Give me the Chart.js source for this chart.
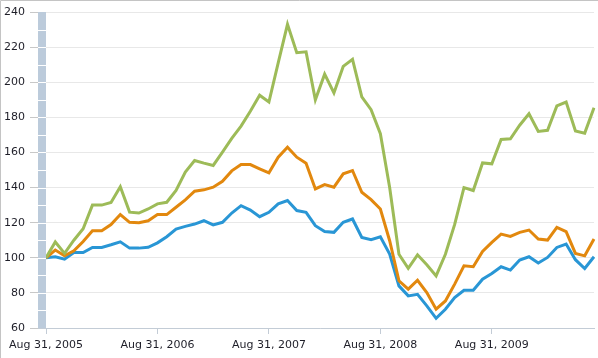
<!DOCTYPE html>
<html>
<head>
<meta charset="utf-8">
<script src="https://cdn.jsdelivr.net/npm/chart.js@4/dist/chart.umd.min.js"></script>
<style>
  html, body { margin: 0; padding: 0; background: #fff; }
  #wrap { width: 598px; height: 358px; position: relative; }
</style>
</head>
<body>
<div id="wrap"><canvas id="chart" width="598" height="358"></canvas></div>
<script>
// month-end categories, Aug 2005 .. Jul 2010
const monthNames = ["Jan", "Feb", "Mar", "Apr", "May", "Jun", "Jul", "Aug", "Sep", "Oct", "Nov", "Dec"];
const months = [];
for (let i = 0; i < 60; i++) {
  const d = new Date(2005, 8 + i, 0);
  months.push(`${monthNames[d.getMonth()]} ${d.getDate()}, ${d.getFullYear()}`);
}
const tickLabels = ["Aug 31, 2005", "Aug 31, 2006", "Aug 31, 2007", "Aug 31, 2008", "Aug 31, 2009"];

const greenSeries = [100, 109, 102.5, 110, 116.5, 130, 130, 131.5, 140.5, 126,
  125.5, 127.8, 130.7, 131.6, 138.3, 148.8, 155.4, 153.9, 152.6, 160.2,
  168, 175, 183.5, 192.6, 188.7, 211, 233, 216.8, 217.3, 190,
  204.6, 193.9, 209, 213, 191.6, 184.4, 170.7, 140, 102, 94,
  101.7, 96, 89.7, 102, 119, 140, 138.3, 154, 153.5, 167.4,
  167.8, 175.5, 182, 172, 172.6, 186.5, 188.7, 172.2, 171, 185.5];
const orangeSeries = [100, 104.4, 101.1, 104, 109.3, 115.4, 115.4, 118.9, 124.6, 120.2,
  120, 121.1, 124.6, 124.6, 128.8, 133, 137.9, 138.7, 140.2, 143.6,
  149.5, 153.1, 153.1, 150.7, 148.4, 157.3, 163, 157.3, 153.9, 139.2,
  141.7, 140.2, 147.8, 149.7, 137.3, 133.1, 127.8, 109.7, 86.9, 82.1,
  87.2, 80.2, 70.7, 75.4, 85, 95.4, 94.9, 103.6, 108.8, 113.5,
  112.2, 114.5, 115.8, 110.7, 110.1, 117.3, 114.9, 102.5, 101.1, 110.7];
const blueSeries = [100, 100.6, 99.2, 103, 103, 105.9, 105.9, 107.4, 109.1, 105.5,
  105.5, 106, 108.5, 112, 116.4, 117.9, 119.2, 121.1, 118.7, 120.2,
  125.5, 129.7, 127.2, 123.4, 125.9, 130.7, 132.6, 126.9, 125.9, 118.3,
  115, 114.5, 120.2, 122.1, 111.6, 110.3, 112, 102.1, 84, 78.3,
  79.2, 72.6, 65.5, 70.7, 77.3, 81.5, 81.5, 87.8, 91, 94.9,
  93, 98.7, 100.6, 97, 100.2, 105.9, 107.8, 98.9, 93.9, 100.6];

const yMin = 60, yMax = 240, yStep = 20;

// frame + segmented band along the value axis
const decor = {
  id: "decor",
  afterDraw(chart) {
    const { ctx } = chart;
    const y = chart.scales.y;
    const left = chart.chartArea.left;
    ctx.save();
    ctx.fillStyle = "#bccbdb";
    const top = y.getPixelForValue(yMax), bot = y.getPixelForValue(yMin);
    ctx.fillRect(left - 8, top, 8, bot - top);
    ctx.fillStyle = "#ffffff";
    for (let v = yMin + 10; v < yMax; v += 10) {
      const p = Math.round(y.getPixelForValue(v));
      ctx.fillRect(left - 8, p, 8, 1);
    }
    // axis line runs under the band too
    ctx.fillStyle = "#c3ccd6";
    ctx.fillRect(left - 8, Math.round(bot), 8, 1);
    ctx.strokeStyle = "#c4c4c4";
    ctx.lineWidth = 1;
    ctx.beginPath();
    ctx.moveTo(0.5, chart.height);
    ctx.lineTo(0.5, 0.5);
    ctx.lineTo(chart.width, 0.5);
    ctx.stroke();
    ctx.restore();
  }
};

const line = (data, color) => ({
  data, borderColor: color, borderWidth: 3, pointRadius: 0, tension: 0,
  fill: false, borderJoinStyle: "miter", borderCapStyle: "butt"
});

new Chart(document.getElementById("chart"), {
  type: "line",
  data: {
    labels: months,
    datasets: [
      line(greenSeries, "#9dbb58"),
      line(orangeSeries, "#e2880e"),
      line(blueSeries, "#2996d5")
    ]
  },
  options: {
    responsive: false,
    animation: false,
    layout: { padding: { top: 12, right: 4, bottom: 0, left: 0 } },
    plugins: { legend: { display: false }, tooltip: { enabled: false } },
    scales: {
      x: {
        offset: false,
        border: { display: true, color: "#c3ccd6", width: 1 },
        grid: { drawOnChartArea: false, drawTicks: true, tickLength: 6, color: "#c3ccd6" },
        ticks: {
          autoSkip: false, maxRotation: 0, padding: 5,
          color: "#1e1e28", font: { family: "DejaVu Sans", size: 11 },
          callback(v, i) { const l = months[i]; return tickLabels.includes(l) ? l : null; }
        },
        afterFit(s) { s.height = 30; }
      },
      y: {
        min: yMin, max: yMax,
        border: { display: false },
        grid: { color: "#e8e8e8", tickLength: 16, tickColor: "#c8c8c8", drawTicks: true },
        ticks: {
          stepSize: yStep, padding: 5,
          color: "#1e1e28", font: { family: "DejaVu Sans", size: 11 }
        },
        afterFit(s) { s.width = 46; }
      }
    }
  },
  plugins: [decor]
});
</script>
</body>
</html>
